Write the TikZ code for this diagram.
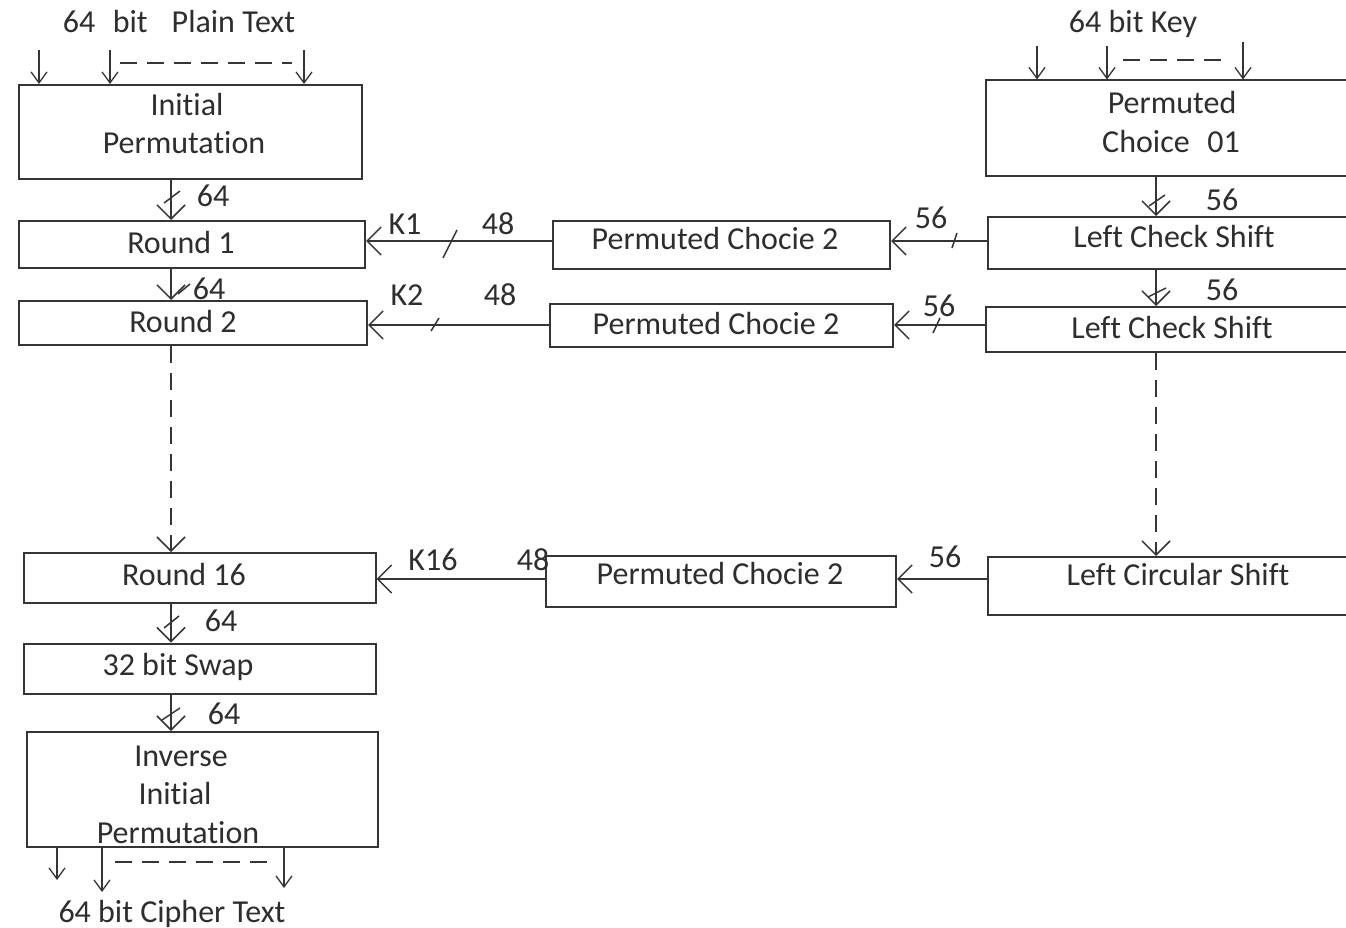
\documentclass[tikz,border=0pt]{standalone}
\usepackage{fontspec}
\setmainfont{Carlito}[Ligatures=NoCommon]
\usetikzlibrary{arrows.meta,calc}
\definecolor{ink}{HTML}{353535}
\definecolor{txtc}{HTML}{2E2E2E}
\tikzset{
  box/.style={draw=ink, line width=2pt, inner sep=0pt, fill=white},
  txt/.style={text=txtc, font=\fontsize{32}{38}\selectfont, inner sep=0pt,
              text height=20.5pt, text depth=0pt, anchor=center},
  flow/.style={draw=ink, line width=1.8pt,
               -{Straight Barb[length=14pt,width=28pt,line width=1.5pt]}},
  io/.style={draw=ink, line width=1.6pt,
             -{Straight Barb[length=11pt,width=16pt,line width=1.3pt]}},
  dashline/.style={draw=ink, line width=1.6pt, dash pattern=on 17pt off 10pt},
  tick/.style={draw=ink, line width=1.5pt},
}
\begin{document}
\begin{tikzpicture}[x=1pt,y=-1pt]
\useasboundingbox (0,0) rectangle (1346,928);
\clip (0,0) rectangle (1346,928);
\fill[white] (0,0) rectangle (1346,928);

% ---------- data path (left column) ----------
\node[box, minimum width=343pt, minimum height=94pt]  (ip)   at (190.5,132) {};
\node[box, minimum width=346pt, minimum height=47pt]  (r1)   at (192,244.5) {};
\node[box, minimum width=348pt, minimum height=44pt]  (r2)   at (193,323) {};
\node[box, minimum width=352pt, minimum height=50pt]  (r16)  at (199.5,578) {};
\node[box, minimum width=352pt, minimum height=50pt]  (swap) at (200,668.5) {};
\node[box, minimum width=351pt, minimum height=115pt] (iip)  at (202,789.5) {};

\node[txt] (t-ip1)  at (187,105) {Initial};
\node[txt] (t-ip2)  at (184,143) {Permutation};
\node[txt] (t-r1)   at (181,243) {Round 1};
\node[txt] (t-r2)   at (183,322) {Round 2};
\node[txt] (t-r16)  at (184,575) {Round 16};
\node[txt] (t-swap) at (178,665) {32 bit Swap};
\node[txt] (t-iip1) at (181,756) {Inverse};
\node[txt] (t-iip2) at (175,794) {Initial};
\node[txt] (t-iip3) at (178,833) {Permutation};

% ---------- key schedule (right column) ----------
\node[box, minimum width=374pt, minimum height=96pt] (pc1)   at (1173,128.5) {};
\node[box, minimum width=372pt, minimum height=52pt] (lcs1)  at (1174,243) {};
\node[box, minimum width=374pt, minimum height=45pt] (lcs2)  at (1173,329.5) {};
\node[box, minimum width=380pt, minimum height=58pt] (lcirc) at (1178,586) {};

\node[txt] (t-pc1a)  at (1172,103) {Permuted};
\node[txt] (t-pc1b)  at (1171,142) {Choice\hspace{0.55em}01};
\node[txt] (t-lcs1)  at (1174,237) {Left Check Shift};
\node[txt] (t-lcs2)  at (1172,328) {Left Check Shift};
\node[txt] (t-lcirc) at (1178,575) {Left Circular Shift};

% ---------- subkey permutations ----------
\node[box, minimum width=337pt, minimum height=48pt] (pc2a) at (721.5,245) {};
\node[box, minimum width=343pt, minimum height=43pt] (pc2b) at (721.5,325.5) {};
\node[box, minimum width=350pt, minimum height=51pt] (pc2c) at (721,581.5) {};

\node[txt] (t-pc2a) at (715,239) {Permuted Chocie 2};
\node[txt] (t-pc2b) at (716,324) {Permuted Chocie 2};
\node[txt] (t-pc2c) at (720,574) {Permuted Chocie 2};

% ---------- headings ----------
\node[txt] (plain)  at (179,22)  {64\hspace{0.55em}bit\hspace{0.75em}Plain Text};
\node[txt] (key)    at (1133,22) {64 bit Key};
\node[txt] (cipher) at (172,912) {64 bit Cipher Text};

% ---------- vertical connectors ----------
\coordinate (cl) at (171,0);
\coordinate (cr) at (1156,0);
\draw[flow] (ip.south -| cl)   -- (r1.north -| cl);
\draw[flow] (r1.south -| cl)   -- (r2.north -| cl);
\draw[flow, dash pattern=on 17pt off 10pt] (r2.south -| cl) -- (r16.north -| cl);
\draw[flow] (r16.south -| cl)  -- (swap.north -| cl);
\draw[flow] (swap.south -| cl) -- (iip.north -| cl);

\draw[flow] (pc1.south -| cr)  -- (lcs1.north -| cr);
\draw[flow] (lcs1.south -| cr) -- (lcs2.north -| cr);
\draw[flow, dash pattern=on 17pt off 10pt] (lcs2.south -| cr) -- (lcirc.north -| cr);

% width ticks on the vertical connectors
\draw[tick] (164,203) -- (180,191);
\draw[tick] (178,294) -- (190,284);
\draw[tick] (164,628) -- (179,616);
\draw[tick] (162,720) -- (180,708);
\draw[tick] (1149,206) -- (1165,195);
\draw[tick] (1148,297) -- (1166,288);

\node[txt] (w1) at (213,196) {64};
\node[txt] (w2) at (209,289) {64};
\node[txt] (w3) at (221,621) {64};
\node[txt] (w4) at (224,714) {64};
\node[txt] (w5) at (1222,200) {56};
\node[txt] (w6) at (1222,290) {56};

% ---------- horizontal connectors (subkeys) ----------
\coordinate (y1) at (0,241);
\coordinate (y2) at (0,325);
\coordinate (y3) at (0,579);
\draw[flow] (lcs1.west |- y1)  -- (pc2a.east |- y1);
\draw[flow] (pc2a.west |- y1)  -- (r1.east |- y1);
\draw[flow] (lcs2.west |- y2)  -- (pc2b.east |- y2);
\draw[flow] (pc2b.west |- y2)  -- (r2.east |- y2);
\draw[flow] (lcirc.west |- y3) -- (pc2c.east |- y3);
\draw[flow] (pc2c.west |- y3)  -- (r16.east |- y3);

\draw[tick] (443,258) -- (457,230);
\draw[tick] (431,331) -- (439,318);
\draw[tick] (952,248) -- (957,233);
\draw[tick] (933,333) -- (940,318);

\node[txt] (k1)  at (405,224) {K1};
\node[txt] (b1)  at (498,224) {48};
\node[txt] (s1)  at (931,218) {56};
\node[txt] (k2)  at (407,295) {K2};
\node[txt] (b2)  at (500,295) {48};
\node[txt] (s2)  at (939,306) {56};
\node[txt] (k16) at (433,560) {K16};
\node[txt] (b3)  at (533,560) {48};
\node[txt] (s3)  at (945,557) {56};

% ---------- 64-bit inputs and outputs ----------
\coordinate (p1) at (39,50);
\coordinate (p2) at (110,50);
\coordinate (p3) at (304,50);
\draw[io] (p1) -- (p1 |- ip.north);
\draw[io] (p2) -- (p2 |- ip.north);
\draw[io] (p3) -- (p3 |- ip.north);
\coordinate (pd1) at (120,63);
\coordinate (pd2) at (292,63);
\draw[dashline] (pd1) -- (pd2);

\coordinate (q1) at (1037,46);
\coordinate (q2) at (1107,46);
\coordinate (q3) at (1243,42);
\draw[io] (q1) -- (q1 |- pc1.north);
\draw[io] (q2) -- (q2 |- pc1.north);
\draw[io] (q3) -- (q3 |- pc1.north);
\coordinate (qd1) at (1123,60);
\coordinate (qd2) at (1225,60);
\draw[dashline] (qd1) -- (qd2);

\coordinate (c1) at (57,880);
\coordinate (c2) at (102,892);
\coordinate (c3) at (284,888);
\draw[io] (c1 |- iip.south) -- (c1);
\draw[io] (c2 |- iip.south) -- (c2);
\draw[io] (c3 |- iip.south) -- (c3);
\coordinate (cd1) at (115,862);
\coordinate (cd2) at (274,862);
\draw[dashline] (cd1) -- (cd2);
\end{tikzpicture}
\end{document}
